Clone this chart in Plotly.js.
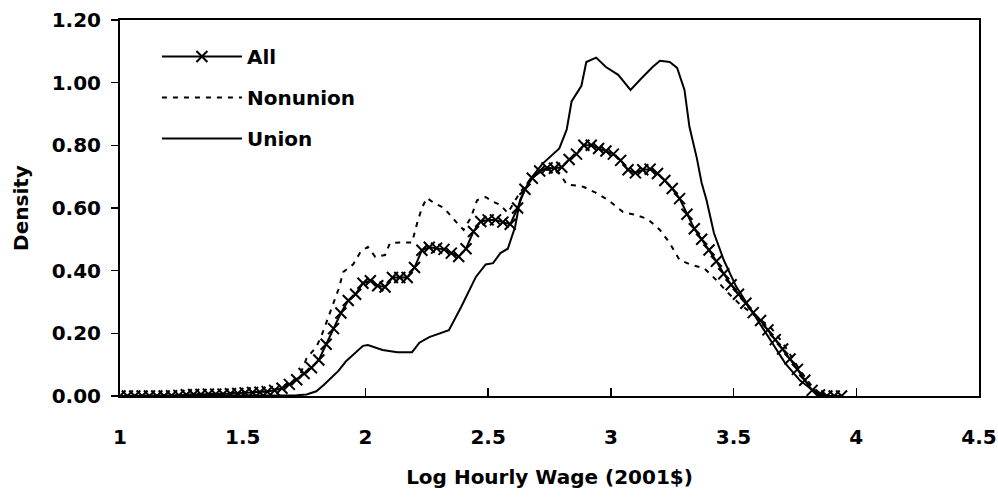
<!DOCTYPE html>
<html>
<head>
<meta charset="utf-8">
<script src="https://cdn.plot.ly/plotly-3.0.1.min.js"></script>
<style>html,body{margin:0;padding:0;background:#fff;}#chart{width:998px;height:498px;}</style>
</head>
<body>
<div id="chart"></div>
<script>
// Log hourly wage grid for the "All" series (markers)
var allX = [1.00,1.03,1.06,1.09,1.12,1.15,1.18,1.21,1.24,1.27,1.30,1.33,1.36,1.39,1.42,1.45,1.48,1.51,1.54,1.57,
  1.60,1.63,1.66,1.69,1.72,1.75,1.78,1.81,1.84,1.87,1.90,1.93,1.96,1.99,2.02,2.05,2.08,2.11,2.14,2.17,
  2.20,2.23,2.26,2.29,2.32,2.35,2.38,2.41,2.44,2.47,2.50,2.53,2.56,2.59,2.62,2.65,2.68,2.71,2.74,2.77,
  2.80,2.83,2.86,2.89,2.92,2.95,2.98,3.01,3.04,3.07,3.10,3.13,3.16,3.19,3.22,3.25,3.28,3.31,3.34,3.37,
  3.40,3.43,3.46,3.49,3.52,3.55,3.58,3.61,3.64,3.67,3.70,3.73,3.76,3.79,3.82,3.85,3.88,3.91,3.94];
var allY = [0.000,0.000,0.000,0.000,0.000,0.000,0.000,0.001,0.002,0.004,0.005,0.005,0.006,0.006,0.006,0.007,0.008,0.010,0.011,0.012,
  0.014,0.018,0.025,0.037,0.052,0.072,0.090,0.115,0.165,0.215,0.265,0.305,0.325,0.360,0.368,0.352,0.348,0.378,0.378,0.378,
  0.410,0.465,0.475,0.472,0.468,0.456,0.445,0.470,0.525,0.557,0.562,0.562,0.555,0.548,0.600,0.660,0.695,0.718,0.728,0.727,
  0.730,0.755,0.772,0.800,0.800,0.790,0.782,0.772,0.752,0.722,0.712,0.722,0.724,0.710,0.688,0.662,0.630,0.580,0.534,0.500,
  0.466,0.430,0.390,0.355,0.325,0.296,0.266,0.241,0.211,0.180,0.150,0.118,0.085,0.050,0.018,0.003,0.000,0.000,0.000];

var nonunionX = [1.00,1.20,1.30,1.50,1.60,1.65,1.70,1.73,1.76,1.80,1.82,1.84,1.865,1.89,1.91,1.95,1.98,2.01,2.04,2.08,
  2.10,2.14,2.19,2.21,2.23,2.25,2.28,2.32,2.37,2.40,2.43,2.455,2.49,2.52,2.55,2.58,2.63,2.67,2.72,2.77,
  2.80,2.82,2.86,2.89,2.94,2.99,3.05,3.10,3.15,3.20,3.24,3.28,3.33,3.38,3.43,3.47,3.52,3.58,3.65,3.70,
  3.74,3.77,3.82,3.85,3.88];
var nonunionY = [0.000,0.000,0.005,0.010,0.015,0.025,0.045,0.060,0.120,0.157,0.190,0.233,0.284,0.340,0.396,0.420,0.460,0.476,0.444,0.450,
  0.488,0.490,0.490,0.550,0.600,0.632,0.616,0.600,0.555,0.530,0.570,0.625,0.635,0.620,0.610,0.584,0.650,0.690,0.720,0.725,
  0.700,0.675,0.672,0.667,0.648,0.625,0.587,0.578,0.565,0.530,0.488,0.434,0.418,0.408,0.370,0.335,0.297,0.260,0.220,0.170,
  0.120,0.083,0.030,0.010,0.000];

var unionX = [1.00,1.60,1.72,1.76,1.80,1.83,1.865,1.89,1.92,1.96,1.99,2.01,2.07,2.13,2.19,2.22,2.26,2.34,2.39,2.45,
  2.49,2.52,2.55,2.58,2.61,2.63,2.67,2.72,2.76,2.79,2.82,2.84,2.88,2.90,2.94,2.98,3.03,3.08,3.12,3.17,
  3.20,3.24,3.27,3.30,3.32,3.35,3.37,3.39,3.42,3.46,3.51,3.58,3.65,3.71,3.77,3.82,3.85,3.88];
var unionY = [0.000,0.000,0.002,0.005,0.015,0.035,0.060,0.080,0.110,0.140,0.160,0.163,0.147,0.140,0.140,0.170,0.188,0.210,0.284,0.380,
  0.420,0.424,0.456,0.470,0.540,0.625,0.690,0.740,0.770,0.790,0.850,0.940,0.990,1.066,1.080,1.050,1.025,0.977,1.010,1.050,
  1.070,1.066,1.047,0.977,0.860,0.760,0.680,0.625,0.520,0.434,0.350,0.265,0.180,0.105,0.050,0.020,0.010,0.000];

var seriesNames = ["All", "Nonunion", "Union"];
var xTitle = "Log Hourly Wage (2001$)";
var yTitle = "Density";

var FONT = "'DejaVu Sans', Arial, sans-serif";
var F = {family: FONT, size: 20, color: "#000", weight: "bold"};

var traces = [
  {x: allX, y: allY, name: seriesNames[0], type: "scatter", mode: "lines+markers", legendgroup: "a",
   line: {color: "#000", width: 2},
   marker: {symbol: "x-thin", size: 11, color: "#000", line: {color: "#000", width: 2}}},
  {x: nonunionX, y: nonunionY, name: seriesNames[1], type: "scatter", mode: "lines", legendgroup: "b",
   line: {color: "#000", width: 2, dash: "5px,6px"}},
  {x: unionX, y: unionY, name: seriesNames[2], type: "scatter", mode: "lines", legendgroup: "c",
   line: {color: "#000", width: 2}}
];

var layout = {
  width: 998, height: 498,
  margin: {l: 120, r: 19, t: 20, b: 102},
  paper_bgcolor: "#fff", plot_bgcolor: "#fff",
  font: F,
  showlegend: true,
  legend: {x: 0.043, y: 0.955, xanchor: "left", yanchor: "top", bgcolor: "rgba(0,0,0,0)",
    font: F, traceorder: "grouped", tracegroupgap: 12, itemwidth: 80},
  xaxis: {range: [1, 4.5], dtick: 0.5, tick0: 1, showgrid: false, zeroline: false,
    showline: true, linecolor: "#000", linewidth: 2, mirror: true,
    ticks: "inside", ticklen: 8, tickwidth: 1.5, tickcolor: "#000",
    ticklabelstandoff: 22,
    tickfont: F,
    title: {text: xTitle, font: F, standoff: 22}},
  yaxis: {range: [0, 1.2], dtick: 0.2, tick0: 0, tickformat: ".2f", showgrid: false, zeroline: false,
    showline: true, linecolor: "#000", linewidth: 2, mirror: true,
    ticks: "outside", ticklen: 7, tickwidth: 1.5, tickcolor: "#000",
    ticklabelstandoff: 6,
    tickfont: F,
    title: {text: yTitle, font: F, standoff: 18}}
};

Plotly.newPlot("chart", traces, layout, {displayModeBar: false, staticPlot: true});
</script>
</body>
</html>
